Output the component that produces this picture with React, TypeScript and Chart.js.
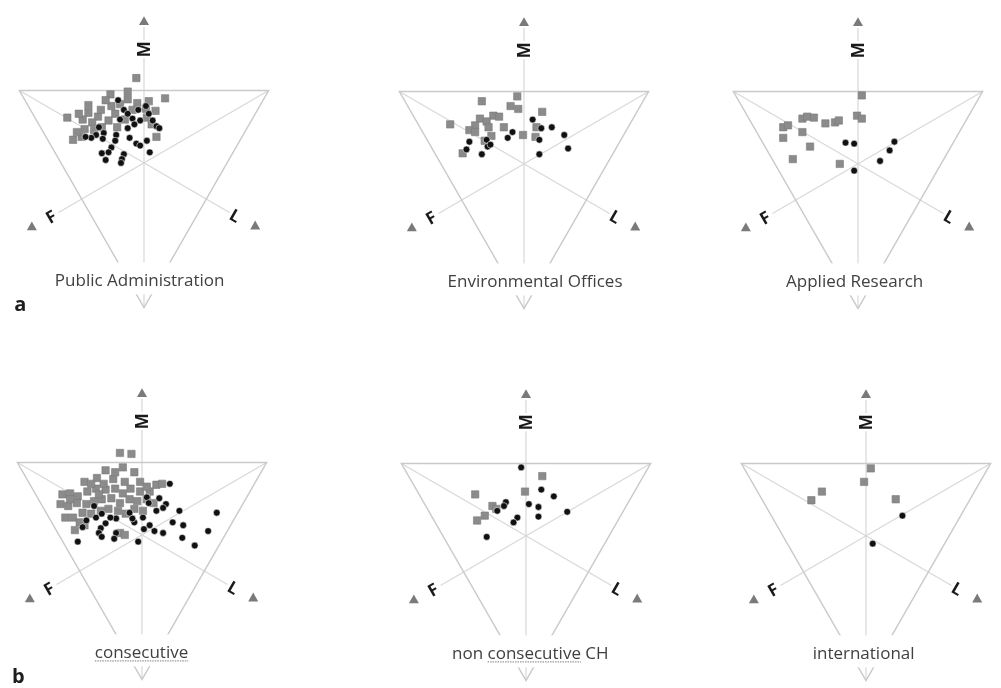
import React, { useEffect, useRef } from "react";
import { Chart, registerables } from "chart.js";

Chart.register(...registerables);

type Pt = [number, number];

// ---- Texts ----
const panelTitles = [
  "Public Administration",
  "Environmental Offices",
  "Applied Research",
  "consecutive",
  "non consecutive CH",
  "international",
];
const underlinedWords = ["", "", "", "consecutive", "consecutive", ""];
const rowLetters = ["a", "", "", "b", "", ""];
const axisNames = ["M", "F", "L"];

// ---- Data: triangle-local units (top edge spans x = -130..130 at y = 0, y up) ----
const pubAdminSquares: Pt[] = [
  [-8, 13], [-17, -1], [-35, -4], [22, -8], [-17, -9], [-80, -28], [-58, -15],
  [-58, -23], [-48, -27], [-64, -30], [-54, -33], [-74, -51], [-65, -48], [13, -48],
  [12, -21], [2, -19], [-34, -16], [-30, -24], [-37, -31], [-7, -13], [-44, -38],
  [-70, -43], [-52, -41], [3, -28], [-25, -14], [-12, -20], [5, -11], [-20, -30],
  [-45, -20], [-62, -40], [8, -35], [-28, -38], [-40, -10], [-68, -24],
];
const pubAdminDots: Pt[] = [
  [-27, -10], [-21, -20], [-17, -24], [-6, -20], [2, -16], [-12, -29], [-4, -31],
  [5, -24], [9, -31], [13, -37], [16, -39], [-17, -39], [-29, -46], [-15, -49],
  [-8, -55], [-4, -57], [6, -64], [-47, -38], [-42, -44], [-50, -46], [-55, -49],
  [-61, -48], [-43, -50], [-34, -59], [-37, -64], [-44, -65], [-40, -72], [-21, -66],
  [-23, -71], [-24, -75], [-10, -35], [-25, -30], [3, -52], [-30, -52],
];
const envSquares: Pt[] = [
  [-7, -5], [-44, -10], [-14, -15], [-6, -18], [19, -21], [-77, -34], [-46, -28],
  [-32, -25], [-26, -26], [-39, -31], [-51, -35], [-57, -40], [-51, -42], [-37, -37],
  [-34, -46], [-21, -37], [-1, -45], [13, -37], [12, -47], [-64, -64], [-41, -51],
];
const envDots: Pt[] = [
  [9, -29], [18, -38], [29, -37], [42, -45], [46, -59], [16, -50], [16, -65],
  [-12, -42], [-17, -48], [-39, -50], [-38, -57], [-57, -52], [-60, -60], [-44, -65],
  [-35, -55],
];
const researchSquares: Pt[] = [
  [4, -4], [-1, -25], [4, -28], [-78, -37], [-73, -35], [-58, -28], [-53, -26],
  [-46, -27], [-34, -33], [-24, -32], [-20, -30], [-78, -48], [-58, -42], [-50, -57],
  [-68, -70], [-19, -75],
];
const researchDots: Pt[] = [
  [-13, -53], [-4, -54], [-4, -82], [38, -52], [33, -61], [23, -72],
];
const consecSquares: Pt[] = [
  [-23, 10], [-11, 9], [-38, -8], [-20, -5], [-8, -10], [-60, -20], [-47, -16],
  [-30, -17], [-18, -20], [-2, -20], [15, -23], [21, -22], [-83, -33], [-75, -32],
  [-67, -35], [-57, -30], [-48, -27], [-38, -28], [-28, -27], [-20, -32], [-12, -27],
  [-2, -30], [8, -30], [-85, -43], [-77, -45], [-68, -42], [-58, -43], [-50, -40],
  [-42, -38], [-32, -37], [-23, -42], [-13, -38], [-5, -40], [5, -38], [12, -42],
  [-80, -57], [-72, -57], [-62, -52], [-53, -53], [-43, -50], [-35, -48], [-25, -50],
  [-17, -53], [-8, -48], [1, -50], [-70, -70], [-60, -65], [-65, -62], [-23, -73],
  [-18, -75], [-75, -38], [-53, -22], [-40, -22], [5, -25], [-28, -10], [-45, -33],
];
const consecDots: Pt[] = [
  [29, -22], [18, -37], [25, -43], [22, -47], [5, -36], [39, -50], [78, -52],
  [32, -62], [43, -65], [69, -71], [42, -78], [55, -86], [22, -73], [13, -71],
  [8, -65], [2, -69], [-4, -82], [1, -57], [-8, -62], [-10, -58], [-13, -52],
  [-27, -58], [-27, -73], [-29, -79], [-38, -63], [-43, -68], [-45, -73], [-42, -77],
  [-48, -57], [-42, -53], [-58, -60], [-62, -67], [-67, -82], [-50, -45], [15, -50],
  [7, -42], [-33, -57],
];
const nonConsecSquares: Pt[] = [
  [17, -13], [-1, -29], [-53, -32], [-35, -44], [-31, -47], [-43, -54], [-51, -59],
];
const nonConsecDots: Pt[] = [
  [-5, -4], [16, -27], [29, -34], [43, -50], [3, -42], [13, -45], [13, -55],
  [-21, -40], [-23, -44], [-30, -49], [-9, -56], [-13, -61], [-41, -76],
];
const intlSquares: Pt[] = [[5, -5], [-2, -19], [-46, -29], [-57, -38], [31, -37]];
const intlDots: Pt[] = [[38, -54], [7, -83]];

const squaresByPanel = [pubAdminSquares, envSquares, researchSquares, consecSquares, nonConsecSquares, intlSquares];
const dotsByPanel = [pubAdminDots, envDots, researchDots, consecDots, nonConsecDots, intlDots];

// ---- Layout (page pixels): origin = midpoint of the triangle's top edge ----
const PANEL_ORIGINS: Pt[] = [
  [144, 88], [524, 89], [858, 89],
  [142, 460], [526, 461], [866, 461],
];
const TITLE_SHIFT = [-4.5, 11.5, -3.5, -0.5, 4.5, -2.5];

const CW = 280;
const CH = 325;
const X_HALF = 140;
const Y_TOP = 90;

// triangle geometry (local units)
const HALF = 130;
const APEX_Y = -225;
const CY = APEX_Y / 3;
const MEDIAN_EXT = 103;
const COS30 = Math.sqrt(3) / 2;

function makeFramePlugin(idx: number) {
  return {
    id: "ternaryFrame",
    beforeDatasetsDraw(chart: any) {
      const { ctx } = chart;
      const sx = chart.scales.x;
      const sy = chart.scales.y;
      const P = (x: number, y: number): Pt => [sx.getPixelForValue(x), sy.getPixelForValue(y)];
      const line = (a: Pt, b: Pt) => {
        ctx.beginPath();
        ctx.moveTo(a[0], a[1]);
        ctx.lineTo(b[0], b[1]);
        ctx.stroke();
      };
      ctx.save();
      ctx.strokeStyle = "#d8d8d8";
      ctx.lineWidth = 1.2;
      line(P(0, APEX_Y), P(0, 66));
      line(P(-HALF, 0), P(MEDIAN_EXT * COS30, CY - MEDIAN_EXT * 0.5));
      line(P(HALF, 0), P(-MEDIAN_EXT * COS30, CY - MEDIAN_EXT * 0.5));
      ctx.strokeStyle = "#cacaca";
      ctx.lineWidth = 1.5;
      const a = P(-HALF, 0), b = P(HALF, 0), c = P(0, APEX_Y);
      ctx.beginPath();
      ctx.moveTo(a[0], a[1]);
      ctx.lineTo(b[0], b[1]);
      ctx.lineTo(c[0], c[1]);
      ctx.closePath();
      ctx.stroke();
      ctx.restore();
    },
    afterDatasetsDraw(chart: any) {
      const { ctx } = chart;
      const sx = chart.scales.x;
      const sy = chart.scales.y;
      const P = (x: number, y: number): Pt => [sx.getPixelForValue(x), sy.getPixelForValue(y)];
      ctx.save();

      // title with white box
      const title = panelTitles[idx];
      ctx.font = '17px "Open Sans"';
      const tw = ctx.measureText(title).width;
      const [tx, ty] = P(TITLE_SHIFT[idx], -203);
      ctx.fillStyle = "#ffffff";
      ctx.fillRect(tx - tw / 2 - 12, ty - 24, tw + 24, 32);
      ctx.fillStyle = "#404040";
      ctx.textAlign = "left";
      ctx.textBaseline = "alphabetic";
      const x0 = tx - tw / 2;
      ctx.fillText(title, x0, ty);
      const uw = underlinedWords[idx];
      if (uw) {
        const pos = title.indexOf(uw);
        const pre = ctx.measureText(title.slice(0, pos)).width;
        const ww = ctx.measureText(uw).width;
        ctx.strokeStyle = "#9a9a9a";
        ctx.lineWidth = 1.3;
        ctx.setLineDash([1.5, 1]);
        ctx.beginPath();
        ctx.moveTo(x0 + pre, ty + 2.5);
        ctx.lineTo(x0 + pre + ww, ty + 2.5);
        ctx.stroke();
        ctx.setLineDash([]);
      }

      // arrows
      const arrows: Pt[] = [P(0, 72), P(-117, -141), P(116, -140)];
      ctx.fillStyle = "#7a7a7a";
      for (const [ax, ay] of arrows) {
        ctx.beginPath();
        ctx.moveTo(ax, ay - 5);
        ctx.lineTo(ax + 5, ay + 3.8);
        ctx.lineTo(ax - 5, ay + 3.8);
        ctx.closePath();
        ctx.fill();
      }

      // axis names
      const labelPos: Pt[] = [P(0, 43), P(-97, -131), P(95, -130)];
      const rots = [-Math.PI / 2, -Math.PI / 6, Math.PI / 6];
      ctx.font = 'bold 17px "Open Sans"';
      ctx.textAlign = "center";
      ctx.textBaseline = "middle";
      for (let i = 0; i < 3; i++) {
        ctx.save();
        ctx.translate(labelPos[i][0], labelPos[i][1]);
        ctx.rotate(rots[i]);
        if (i === 0) {
          ctx.fillStyle = "#ffffff";
          ctx.fillRect(-9, -8, 18, 16);
        }
        ctx.fillStyle = "#1a1a1a";
        ctx.fillText(axisNames[i], 0, 1);
        ctx.restore();
      }

      // row letter
      const rl = rowLetters[idx];
      if (rl) {
        ctx.font = 'bold 20px "Open Sans"';
        ctx.fillStyle = "#1e1e1e";
        ctx.textAlign = "center";
        ctx.textBaseline = "alphabetic";
        const [lx, ly] = P(-129, -229);
        ctx.fillText(rl, lx, ly);
      }
      ctx.restore();
    },
  };
}

function TernaryPanel({ idx }: { idx: number }) {
  const ref = useRef<HTMLCanvasElement | null>(null);
  useEffect(() => {
    if (!ref.current) return;
    const chart = new Chart(ref.current, {
      type: "scatter",
      data: {
        datasets: [
          {
            label: "dots",
            data: dotsByPanel[idx].map(([x, y]) => ({ x, y })),
            pointStyle: "circle",
            pointRadius: 3.4,
            backgroundColor: "#111111",
            borderColor: "rgba(255,255,255,0.8)",
            borderWidth: 0.7,
          },
          {
            label: "squares",
            data: squaresByPanel[idx].map(([x, y]) => ({ x, y })),
            pointStyle: "rect",
            pointRadius: 5.2,
            backgroundColor: "#8b8b8b",
            borderColor: "#7a7a7a",
            borderWidth: 0.6,
          },
        ],
      },
      options: {
        animation: false,
        responsive: false,
        maintainAspectRatio: false,
        events: [],
        layout: { padding: 0 },
        scales: {
          x: { type: "linear", min: -X_HALF, max: CW - X_HALF, display: false },
          y: { type: "linear", min: Y_TOP - CH, max: Y_TOP, display: false },
        },
        plugins: { legend: { display: false }, tooltip: { enabled: false } },
      },
      plugins: [makeFramePlugin(idx)],
    } as any);
    return () => chart.destroy();
  }, [idx]);
  const [ox, oy] = PANEL_ORIGINS[idx];
  return (
    <canvas
      ref={ref}
      width={CW}
      height={CH}
      style={{ position: "absolute", left: ox - X_HALF, top: oy - Y_TOP, width: CW, height: CH, display: "block" }}
    />
  );
}

export default function App() {
  return (
    <div
      style={{
        position: "absolute",
        left: 0,
        top: 0,
        width: 1001,
        height: 688,
        overflow: "hidden",
        background: "#ffffff",
      }}
    >
      {panelTitles.map((_, i) => (
        <TernaryPanel key={i} idx={i} />
      ))}
    </div>
  );
}
